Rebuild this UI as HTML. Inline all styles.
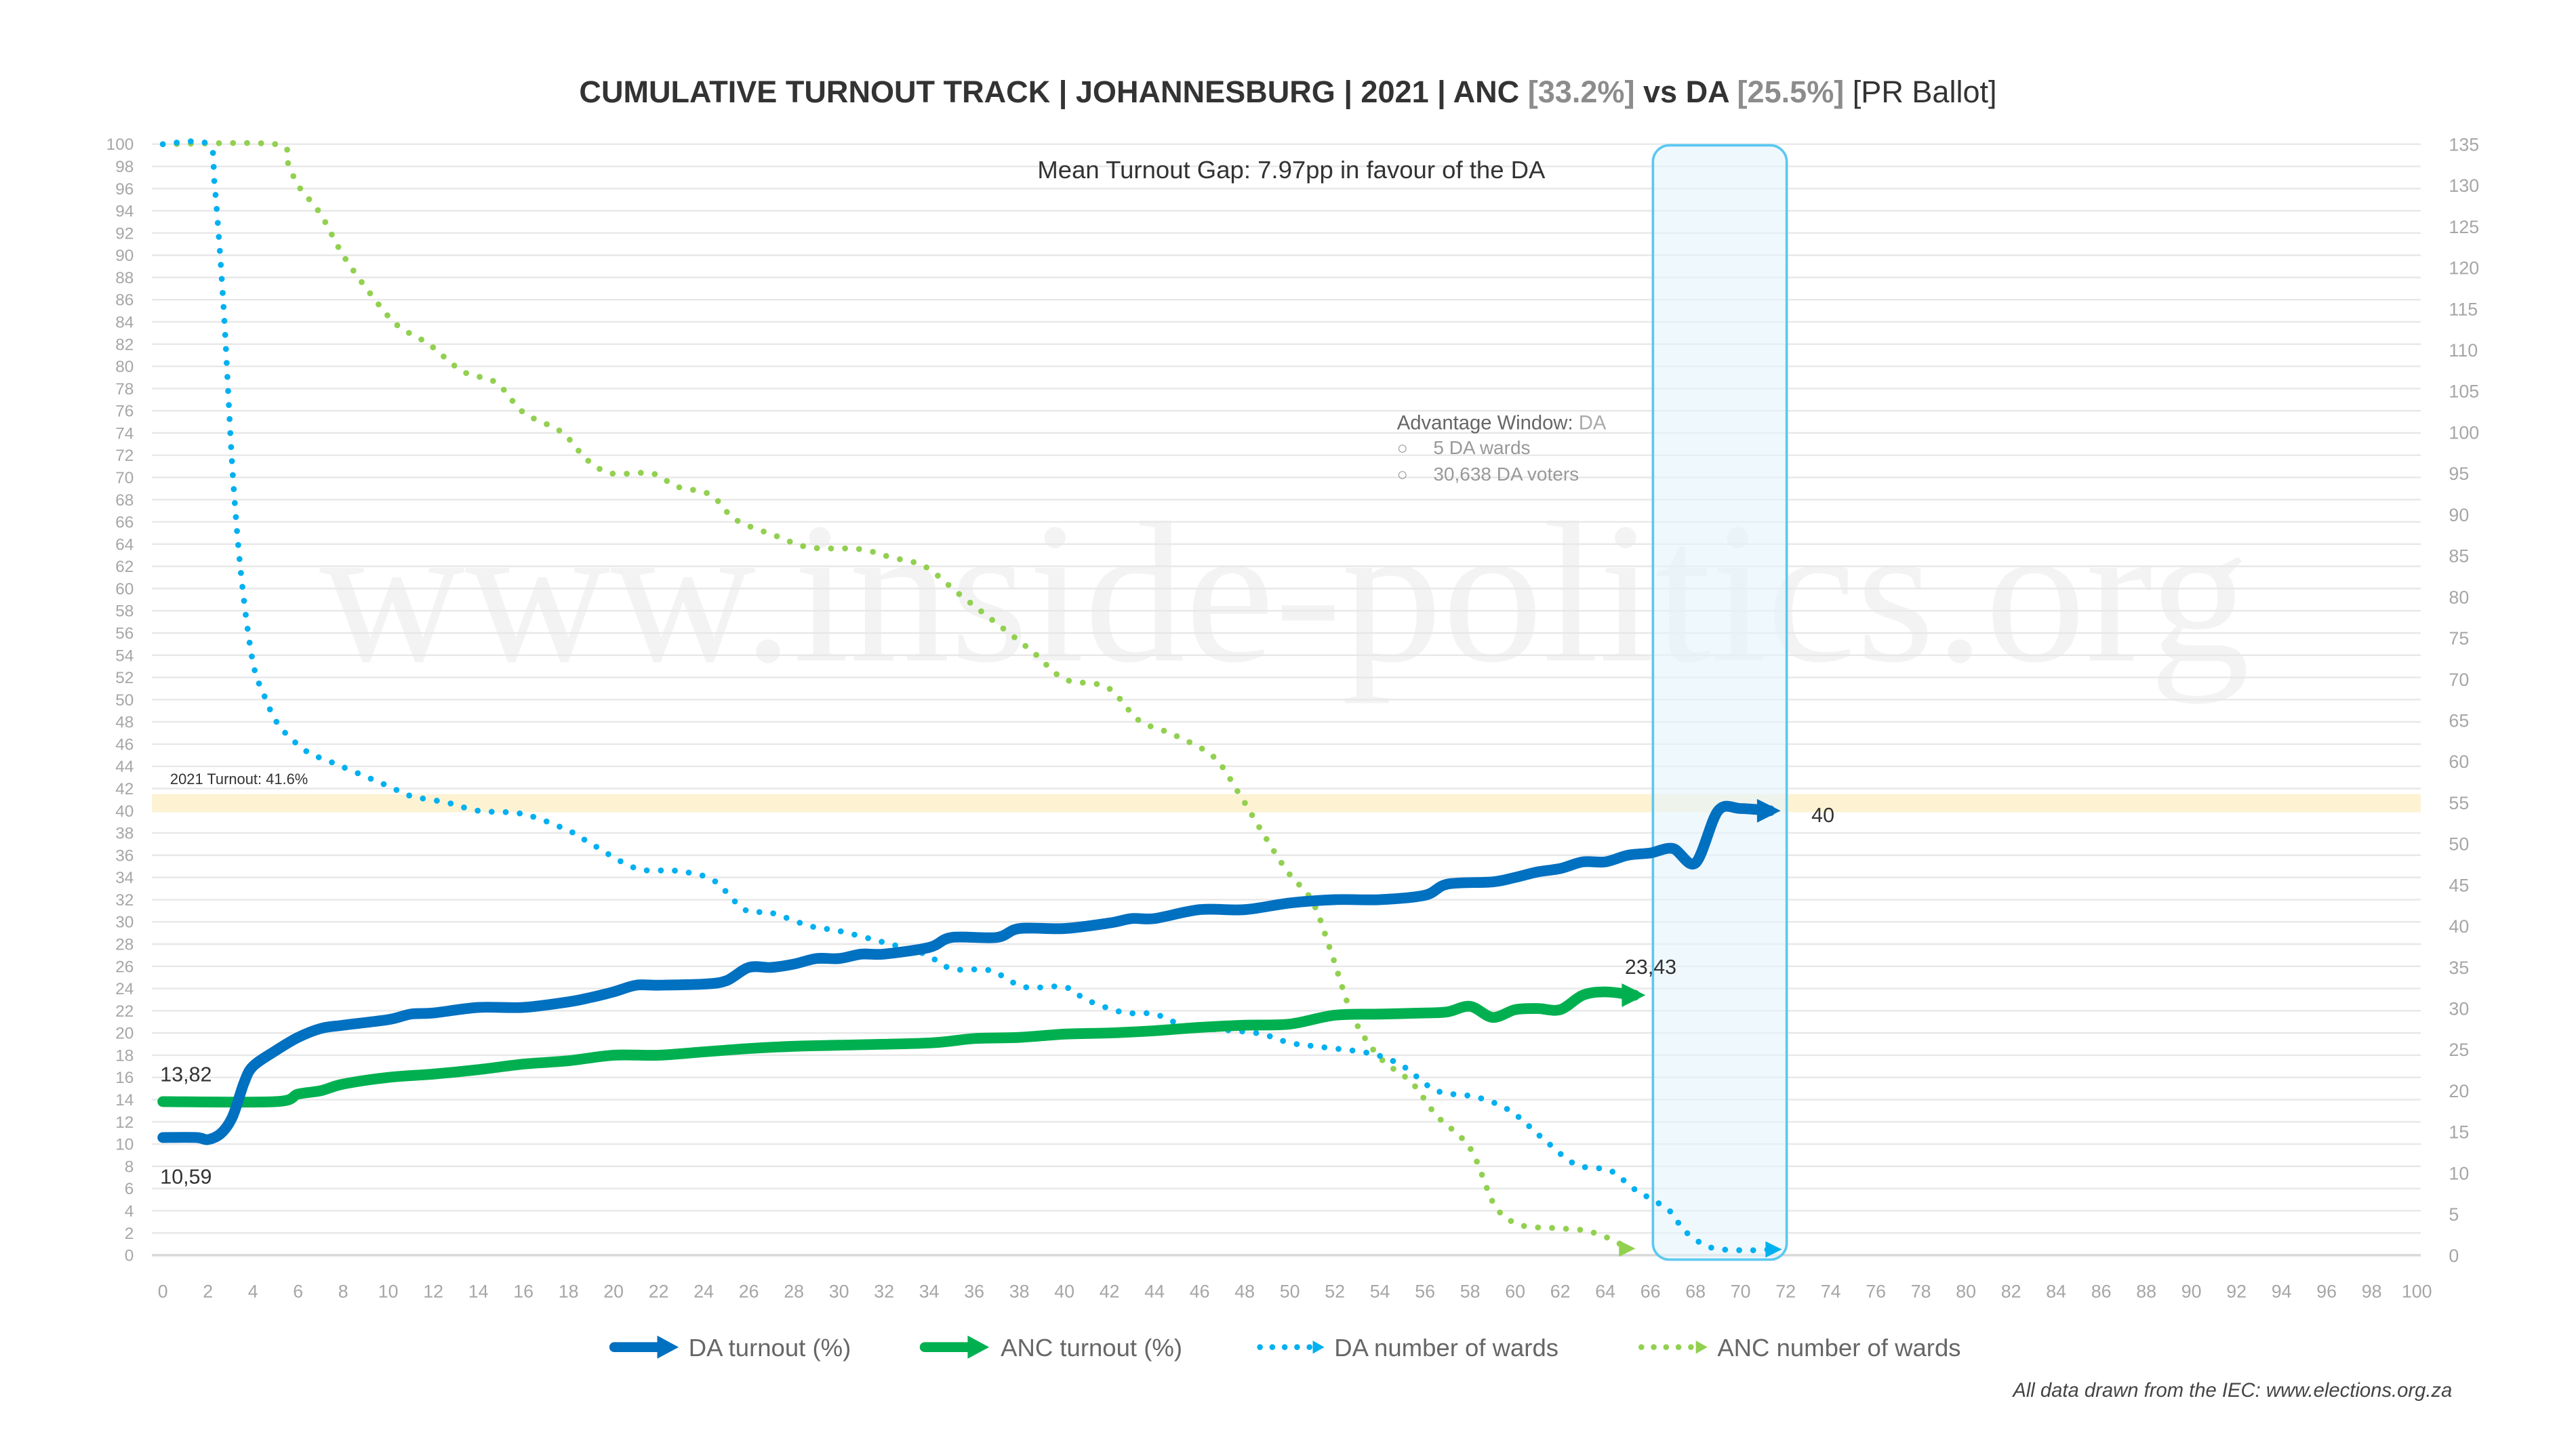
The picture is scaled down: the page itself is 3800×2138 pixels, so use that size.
<!DOCTYPE html>
<html><head><meta charset="utf-8"><style>
html,body{margin:0;padding:0;background:#fff;}
svg{display:block;}
text{font-family:"Liberation Sans",sans-serif;}
</style></head><body>
<svg id="s" width="3800" height="2138" viewBox="0 0 1560 877.7" xmlns="http://www.w3.org/2000/svg">
<rect width="1560" height="877.7" fill="#fff"/>
<text x="778" y="400" text-anchor="middle" font-size="122" fill="#f3f3f3" style="font-family:'Liberation Serif',serif">www.inside-politics.org</text>
<g id="grid"></g>
<rect x="92" y="481" width="1374" height="11" fill="#fdf3d3"/>
<rect x="1001" y="88" width="81" height="675" rx="10" fill="#e4f4fc" fill-opacity="0.6" stroke="#5bc8f0" stroke-width="1.5"/>
<g id="series"></g>
<text x="780" y="62" text-anchor="middle" font-size="18.5" font-weight="bold" fill="#333">CUMULATIVE TURNOUT TRACK | JOHANNESBURG | 2021 | ANC <tspan fill="#8c8c8c">[33.2%]</tspan> vs DA <tspan fill="#8c8c8c">[25.5%]</tspan> <tspan font-weight="normal">[PR Ballot]</tspan></text>
<text x="782" y="108" text-anchor="middle" font-size="15" fill="#333">Mean Turnout Gap: 7.97pp in favour of the DA</text>
<text x="846" y="260" font-size="12" fill="#666">Advantage Window: <tspan fill="#aaa">DA</tspan></text>
<text x="846" y="275" font-size="11" fill="#999">○</text><text x="868" y="275" font-size="11.5" fill="#999">5 DA wards</text>
<text x="846" y="291" font-size="11" fill="#999">○</text><text x="868" y="291" font-size="11.5" fill="#999">30,638 DA voters</text>
<text x="103" y="475" font-size="9" fill="#333">2021 Turnout: 41.6%</text>
<text x="97" y="655" font-size="12.5" fill="#333">13,82</text>
<text x="97" y="717" font-size="12.5" fill="#333">10,59</text>
<text x="984" y="590" font-size="12.5" fill="#333">23,43</text>
<text x="1097" y="498" font-size="12.5" fill="#333">40</text>
<g id="legend">
<line x1="372" y1="816" x2="400" y2="816" stroke="#0070c0" stroke-width="6" stroke-linecap="round"/><polygon points="398,809 411,816 398,823" fill="#0070c0"/>
<text x="417" y="821.5" font-size="15" fill="#666">DA turnout (%)</text>
<line x1="560" y1="816" x2="588" y2="816" stroke="#00b050" stroke-width="6" stroke-linecap="round"/><polygon points="586,809 599,816 586,823" fill="#00b050"/>
<text x="606" y="821.5" font-size="15" fill="#666">ANC turnout (%)</text>
<line x1="763" y1="816" x2="794" y2="816" stroke="#00b0f0" stroke-width="3.5" stroke-linecap="round" stroke-dasharray="0 7.5"/><polygon points="795,812 802,816 795,820" fill="#00b0f0"/>
<text x="808" y="821.5" font-size="15" fill="#666">DA number of wards</text>
<line x1="994" y1="816" x2="1026" y2="816" stroke="#92d050" stroke-width="3.5" stroke-linecap="round" stroke-dasharray="0 7.5"/><polygon points="1027,812 1034,816 1027,820" fill="#92d050"/>
<text x="1040" y="821.5" font-size="15" fill="#666">ANC number of wards</text>
</g>
<text x="1485" y="846" text-anchor="end" font-size="12" font-style="italic" fill="#444">All data drawn from the IEC: www.elections.org.za</text>
</svg>
<script>
var NS="http://www.w3.org/2000/svg";
function X(v){return 98.6+13.65*v;}
function YL(v){return 760.3-6.73*v;}
function YR(v){return 760.3-4.985*v;}
function el(p,t,a,txt){var e=document.createElementNS(NS,t);for(var k in a)e.setAttribute(k,a[k]);if(txt!==undefined)e.textContent=txt;p.appendChild(e);return e;}
var g=document.getElementById('grid');
for(var v=0;v<=100;v+=2){var y=YL(v);el(g,'line',{x1:92,x2:1466,y1:y,y2:y,stroke:v==0?'#d9d9d9':'#e8e8e8','stroke-width':v==0?1.5:1});
el(g,'text',{x:81,y:y+3.5,'text-anchor':'end','font-size':10,fill:'#a6a6a6'},v);}
for(var v=0;v<=135;v+=5){el(g,'text',{x:1483,y:YR(v)+4,'font-size':11,fill:'#a6a6a6'},v);}
for(var v=0;v<=100;v+=2){el(g,'text',{x:X(v),y:786,'text-anchor':'middle','font-size':11,fill:'#a6a6a6'},v);}
function path(pts,fy){var P=pts.map(function(p){return [X(p[0]),fy(p[1])];});
var d='M'+P[0][0]+','+P[0][1];
for(var i=0;i<P.length-1;i++){var p0=P[Math.max(0,i-1)],p1=P[i],p2=P[i+1],p3=P[Math.min(P.length-1,i+2)];
var t=0.16;var c1=[p1[0]+(p2[0]-p0[0])*t,p1[1]+(p2[1]-p0[1])*t],c2=[p2[0]-(p3[0]-p1[0])*t,p2[1]-(p3[1]-p1[1])*t];
d+=' C'+c1[0]+','+c1[1]+' '+c2[0]+','+c2[1]+' '+p2[0]+','+p2[1];}
return {d:d,end:P[P.length-1]};}
var s=document.getElementById('series');
var da=[[0,10.59],[1.5,10.59],[2,10.4],[2.6,11],[3.1,12.5],[3.6,15.5],[4,17],[5,18.4],[6,19.6],[7,20.4],[8,20.7],[10,21.2],[11,21.7],[12,21.8],[14,22.3],[16,22.3],[18,22.8],[19,23.2],[20,23.7],[21,24.3],[22,24.3],[24,24.4],[25,24.7],[26,25.9],[27,25.9],[28,26.2],[29,26.7],[30,26.7],[31,27.1],[32,27.1],[34,27.7],[35,28.6],[37,28.6],[38,29.4],[40,29.4],[42,29.9],[43,30.3],[44,30.3],[46,31.1],[48,31.1],[50,31.7],[52,32.0],[54,32.0],[56,32.4],[57,33.4],[59,33.6],[60,34.0],[61,34.5],[62,34.8],[63,35.4],[64,35.4],[65,36.0],[66,36.2],[67,36.6],[68,35.3],[69,40.0],[70,40.2],[71.3,40]];
var anc=[[0,13.82],[5,13.82],[6,14.5],[7,14.8],[8,15.4],[10,16.0],[12,16.3],[14,16.7],[16,17.2],[18,17.5],[20,18.0],[22,18.0],[24,18.3],[26,18.6],[28,18.8],[30,18.9],[34,19.1],[36,19.5],[38,19.6],[40,19.9],[42,20.0],[44,20.2],[46,20.5],[48,20.7],[50,20.8],[52,21.6],[54,21.7],[56,21.8],[57,21.9],[58,22.4],[59,21.4],[60,22.1],[61,22.2],[62,22.1],[63,23.4],[64,23.7],[65.3,23.4]];
var daw=[[0,135],[2,135],[2.3,130],[2.7,115],[3.1,95],[3.5,82],[4,72],[4.5,68],[5,65],[5.6,63],[6.5,61],[7.4,60],[10,57],[11,55.8],[12.6,55],[14,54],[16,53.6],[18,51.6],[19,50],[21,47],[22.8,46.7],[24.4,45.6],[25.8,42],[27,41.6],[28.7,40],[30,39.4],[32,38],[33.8,36.6],[35,34.8],[36.7,34.6],[38.2,32.6],[40,32.6],[41,31],[42.6,29.5],[44,29.3],[45.5,27.8],[48.5,27],[50,25.8],[51.4,25.3],[53.6,24.5],[55,23],[56.5,20],[58.3,19.2],[59.8,17.5],[61.3,14],[62.7,11],[64.2,10.3],[65.3,8],[66.8,5.5],[67.5,3],[68.6,1],[70,0.6],[71.5,0.7]];
var ancw=[[0,135],[5,135],[5.5,133],[6,130],[7,126.5],[8,121.5],[9.3,116.5],[10.4,113],[11.8,110.7],[13.3,107.4],[14.8,106],[16,102.4],[17.7,100],[18.8,96.7],[19.9,95],[21.7,95],[22.8,93.4],[24.3,92.4],[25.4,89.4],[27.2,87.4],[28.7,86],[30.9,85.8],[32.3,84.8],[33.8,83.7],[35.3,80.4],[36.7,77.4],[38.6,73.3],[40,70],[41.9,69],[43.3,65],[44.8,63.3],[46.6,60.6],[47.7,56.3],[48.8,51.3],[49.9,46.6],[51,43],[51.8,37.1],[52.8,29],[54,24],[55.4,21],[56.5,17],[58,13],[59.1,6],[60.2,3.7],[61.7,3.3],[63.1,3],[64.2,2],[65,0.8]];
function line(pts,fy,col,w,dash,ah){var r=path(pts,fy);var a={d:r.d,fill:'none',stroke:col,'stroke-width':w,'stroke-linecap':'round','stroke-linejoin':'round'};if(dash)a['stroke-dasharray']=dash;el(s,'path',a);
var e=r.end;el(s,'polygon',{points:(e[0]-ah*0.6)+','+(e[1]-ah*0.55)+' '+(e[0]+ah*0.5)+','+e[1]+' '+(e[0]-ah*0.6)+','+(e[1]+ah*0.55),fill:col});}
line(ancw,YR,'#92d050',3.6,'0 8.5',9);
line(daw,YR,'#00b0f0',3.6,'0 8.5',9);
line(anc,YL,'#00b050',6.5,null,13);
line(da,YL,'#0070c0',6.5,null,13);
</script>
</body></html>
